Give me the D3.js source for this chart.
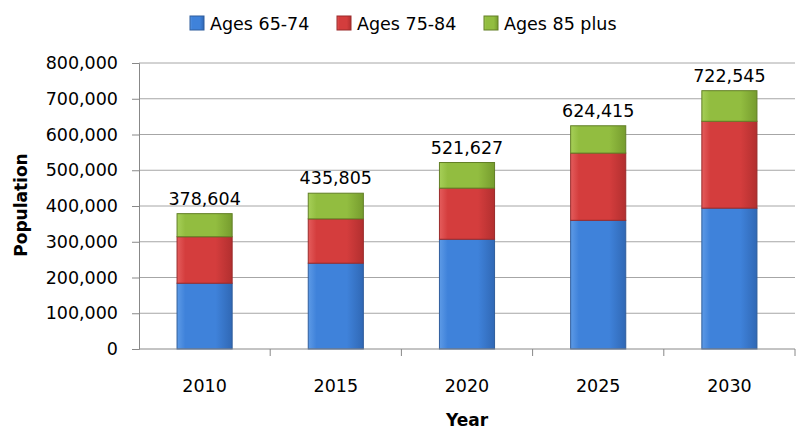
<!DOCTYPE html>
<html>
<head>
<meta charset="utf-8">
<script src="https://cdn.jsdelivr.net/npm/d3@7.9.0/dist/d3.min.js"></script>
<style>
  body { margin: 0; background: #fff; }
  text { font-family: "DejaVu Sans", sans-serif; fill: #000; }
</style>
</head>
<body>
<svg id="chart" width="802" height="430"></svg>
<script>
const years = ["2010", "2015", "2020", "2025", "2030"];
const ages6574 = [184000, 240000, 307000, 360000, 394000];
const ages7584 = [130000, 124000, 143000, 188000, 243000];
const ages85plus = [64604, 71805, 71627, 76415, 85545];
const totals = [378604, 435805, 521627, 624415, 722545];
const seriesNames = ["Ages 65-74", "Ages 75-84", "Ages 85 plus"];
const yTicks = [0, 100000, 200000, 300000, 400000, 500000, 600000, 700000, 800000];

// light edge, body, darker edge
const colors = [
  ["#5d9ae6", "#3f82da", "#3068b5"],
  ["#e45c5c", "#d43d3d", "#b22f2f"],
  ["#a6cf58", "#92bd40", "#769c2e"]
];
const strokes = ["#2f5d9c", "#9a2a2a", "#627f25"];

const svg = d3.select("#chart");
const margin = { left: 139, right: 7, top: 63, bottom: 81 };
const width = 802 - margin.left - margin.right;
const height = 430 - margin.top - margin.bottom;

const defs = svg.append("defs");
colors.forEach((c, i) => {
  let g = defs.append("linearGradient").attr("id", "grad" + i)
    .attr("x1", "0%").attr("x2", "100%").attr("y1", "0%").attr("y2", "0%");
  g.append("stop").attr("offset", "0%").attr("stop-color", c[0]);
  g.append("stop").attr("offset", "15%").attr("stop-color", c[1]);
  g.append("stop").attr("offset", "70%").attr("stop-color", c[1]);
  g.append("stop").attr("offset", "100%").attr("stop-color", c[2]);
});

const x = d3.scaleBand().domain(years).range([0, width]).paddingInner(0.58).paddingOuter(0.29);
const xCat = d3.scaleBand().domain(years).range([0, width]);
const y = d3.scaleLinear().domain([0, 800000]).range([height, 0]);

const g = svg.append("g").attr("transform", `translate(${margin.left},${margin.top})`);

// gridlines
g.selectAll(".grid").data(yTicks.slice(1)).enter().append("line")
  .attr("x1", 0).attr("x2", width)
  .attr("y1", d => y(d)).attr("y2", d => y(d))
  .attr("stroke", "#a6a6a6").attr("stroke-width", 1);

// y axis
const yAxis = g.append("g")
  .call(d3.axisLeft(y).tickValues(yTicks).tickSize(7).tickPadding(14).tickFormat(d3.format(",")));
yAxis.select(".domain").attr("stroke", "#888");
yAxis.selectAll(".tick line").attr("stroke", "#888");
yAxis.selectAll("text").style("font-size", "17.5px").style("font-family", "DejaVu Sans");

// stacked data
const rows = years.map((yr, i) => ({ year: yr, a: ages6574[i], b: ages7584[i], c: ages85plus[i] }));
const stack = d3.stack().keys(["a", "b", "c"])(rows);

stack.forEach((layer, li) => {
  g.selectAll(".bar" + li).data(layer).enter().append("rect")
    .attr("x", d => x(d.data.year))
    .attr("width", x.bandwidth())
    .attr("y", d => y(d[1]))
    .attr("height", d => y(d[0]) - y(d[1]))
    .attr("fill", `url(#grad${li})`)
    .attr("stroke", strokes[li])
    .attr("stroke-width", 1);
});

// x axis
g.append("line").attr("x1", 0).attr("x2", width).attr("y1", height).attr("y2", height)
  .attr("stroke", "#888");
g.selectAll(".xtick").data(years.slice(1).concat(["end"])).enter().append("line")
  .attr("x1", (d, i) => xCat.bandwidth() * (i + 1))
  .attr("x2", (d, i) => xCat.bandwidth() * (i + 1))
  .attr("y1", height).attr("y2", height + 7)
  .attr("stroke", "#888");
g.selectAll(".xlabel").data(years).enter().append("text")
  .attr("x", d => xCat(d) + xCat.bandwidth() / 2)
  .attr("y", height + 43)
  .attr("text-anchor", "middle")
  .style("font-size", "17.5px")
  .text(d => d);

// total labels
g.selectAll(".total").data(years).enter().append("text")
  .attr("x", d => x(d) + x.bandwidth() / 2)
  .attr("y", (d, i) => y(totals[i]) - 9)
  .attr("text-anchor", "middle")
  .style("font-size", "17.5px")
  .text((d, i) => d3.format(",")(totals[i]));

// axis titles
svg.append("text")
  .attr("transform", "translate(27,205) rotate(-90)")
  .attr("text-anchor", "middle")
  .style("font-size", "17px").style("font-weight", "bold")
  .text("Population");
svg.append("text")
  .attr("x", 467).attr("y", 426)
  .attr("text-anchor", "middle")
  .style("font-size", "17px").style("font-weight", "bold")
  .text("Year");

// legend
const legendX = [190, 337, 484];
const legend = svg.append("g");
seriesNames.forEach((name, i) => {
  legend.append("rect")
    .attr("x", legendX[i]).attr("y", 16).attr("width", 14).attr("height", 14)
    .attr("fill", `url(#grad${i})`).attr("stroke", strokes[i]);
  legend.append("text")
    .attr("x", legendX[i] + 20).attr("y", 30)
    .style("font-size", "17.5px")
    .text(name);
});
</script>
</body>
</html>
